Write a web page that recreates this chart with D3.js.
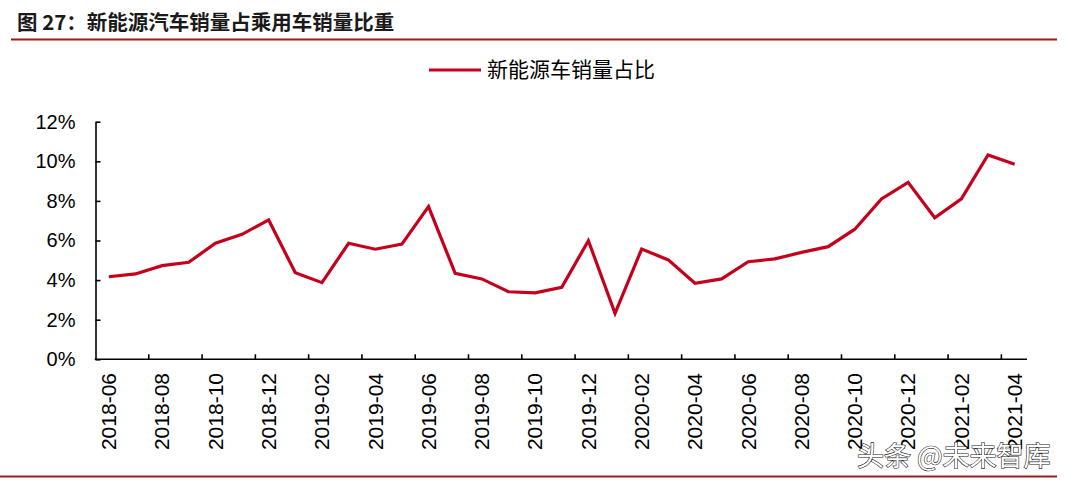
<!DOCTYPE html>
<html><head><meta charset="utf-8">
<script src="https://cdn.jsdelivr.net/npm/d3@7/dist/d3.min.js"></script>
<style>body{margin:0;background:#fff}svg{display:block}</style>
</head><body>
<script>
const months = ["2018-06","2018-07","2018-08","2018-09","2018-10","2018-11","2018-12",
"2019-01","2019-02","2019-03","2019-04","2019-05","2019-06","2019-07","2019-08","2019-09","2019-10","2019-11","2019-12",
"2020-01","2020-02","2020-03","2020-04","2020-05","2020-06","2020-07","2020-08","2020-09","2020-10","2020-11","2020-12",
"2021-01","2021-02","2021-03","2021-04"];
const share = [4.17,4.31,4.73,4.90,5.86,6.31,7.04,
4.37,3.87,5.86,5.56,5.82,7.71,4.34,4.06,3.41,3.36,3.64,5.99,
2.32,5.57,5.02,3.84,4.06,4.93,5.07,5.40,5.69,6.57,8.10,8.94,
7.15,8.10,10.32,9.85];
const yTicks = [0,2,4,6,8,10,12];
const titleText = "图 27：新能源汽车销量占乘用车销量比重";
const seriesName = "新能源车销量占比";
const watermark = "头条 @未来智库";

const W = 1067, H = 482;
const svg = d3.select("body").append("svg").attr("width", W).attr("height", H);
const font = "Arial, 'Liberation Sans', 'Noto Sans CJK SC', sans-serif";
const cjk = "'Noto Sans CJK SC', Arial, sans-serif";
const red = "#c4001c", dark = "#9b1c1c";

// title
svg.append("text").attr("x", 17).attr("y", 30).attr("font-family", cjk)
  .attr("font-size", 20.5).attr("font-weight", "bold").attr("fill", "#1a1a1a").text(titleText);
svg.append("line").attr("x1", 11).attr("x2", 1057).attr("y1", 39.5).attr("y2", 39.5)
  .attr("stroke", dark).attr("stroke-width", 2.2);
svg.append("line").attr("x1", 0).attr("x2", 1057).attr("y1", 476.5).attr("y2", 476.5)
  .attr("stroke", dark).attr("stroke-width", 2.2);

// scales
const x = d3.scaleBand().domain(months).range([95.5, 1028]).padding(0);
const y = d3.scaleLinear().domain([0, 12]).range([359.3, 121.7]);

// y axis
const yAxis = svg.append("g").attr("transform", "translate(95.5,0)")
  .call(d3.axisLeft(y).tickValues(yTicks).tickSize(-5).tickSizeOuter(0).tickPadding(20).tickFormat(d => d + "%"));
yAxis.select(".domain").attr("stroke", "#000").attr("stroke-width", 1.6);
yAxis.selectAll(".tick line").attr("stroke", "#000").attr("stroke-width", 1.6);
yAxis.selectAll("text").attr("font-family", font).attr("font-size", 20).attr("fill", "#000");

// x axis
const gx = svg.append("g");
gx.append("line").attr("x1", x.range()[0] - 0.8).attr("x2", 1027).attr("y1", y(0)).attr("y2", y(0))
  .attr("stroke", "#000").attr("stroke-width", 1.6);
const tickIdx = months.map((m, i) => i).filter(i => i % 2 === 0 && i > 0);
gx.selectAll("line.tk").data(tickIdx).join("line").attr("class", "tk")
  .attr("x1", i => x(months[i])).attr("x2", i => x(months[i]))
  .attr("y1", y(0)).attr("y2", y(0) - 5).attr("stroke", "#000").attr("stroke-width", 1.6);
const labelMonths = months.filter((m, i) => i % 2 === 0);
gx.selectAll("text").data(labelMonths).join("text")
  .attr("transform", d => `translate(${x(d) + x.bandwidth() / 2},373) rotate(-90)`)
  .attr("text-anchor", "end").attr("dy", "0.35em")
  .attr("font-family", font).attr("font-size", 21).attr("fill", "#000").text(d => d);

// line
const line = d3.line().x((d, i) => x(months[i]) + x.bandwidth() / 2).y(d => y(d));
svg.append("path").datum(share).attr("d", line).attr("fill", "none")
  .attr("stroke", red).attr("stroke-width", 3.2).attr("stroke-linejoin", "miter");

// legend
svg.append("line").attr("x1", 429).attr("x2", 481).attr("y1", 70).attr("y2", 70)
  .attr("stroke", red).attr("stroke-width", 3.2);
svg.append("text").attr("x", 487).attr("y", 70).attr("dy", "0.35em").attr("font-family", cjk)
  .attr("font-size", 21).attr("fill", "#000").text(seriesName);

// watermark
svg.append("text").attr("x", 857).attr("y", 466).attr("font-family", cjk)
  .attr("font-size", 27).attr("fill", "#fff").attr("stroke", "#222").attr("stroke-width", 1.2)
  .attr("paint-order", "stroke").text(watermark);
</script>
</body></html>
